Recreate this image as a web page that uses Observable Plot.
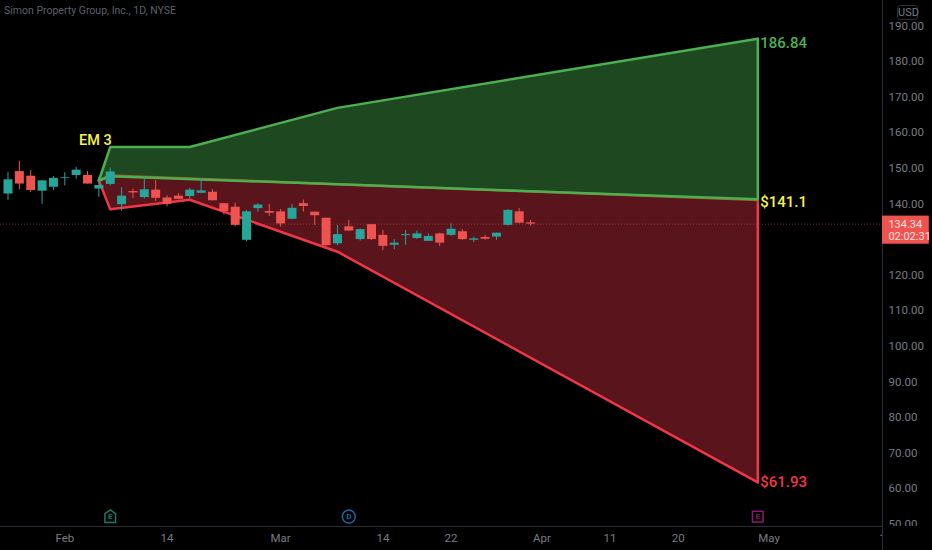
<!DOCTYPE html>
<html>
<head>
<meta charset="utf-8">
<script src="https://cdn.jsdelivr.net/npm/d3@7"></script>
<script src="https://cdn.jsdelivr.net/npm/@observablehq/plot@0.6"></script>
<style>
html,body{margin:0;padding:0;background:#000;overflow:hidden}
#wrap{position:relative;width:932px;height:550px;background:#000}
#title{position:absolute;left:4px;top:4px;font:10.5px "Liberation Sans Narrow",Roboto,sans-serif;color:#5d606b;white-space:nowrap}
#usd{position:absolute;left:897px;top:5px;width:19px;height:13px;border:1px solid #2a2e39;border-radius:3px;font:11px/13px "Liberation Sans Narrow",Roboto,sans-serif;color:#787b86;text-align:center}
svg{display:block}
</style>
</head>
<body>
<div id="wrap">
<div id="chart"></div>
<div id="title">Simon Property Group, Inc., 1D, NYSE</div>
<div id="usd">USD</div>
</div>
<script>
const opens = [142.8,149.1,147.8,143.6,144.7,147.2,148.0,148.0,144.2,145.5,139.8,143.5,141.8,143.9,141.7,142.2,142.1,143.0,143.3,140.1,139.1,129.8,138.7,137.9,137.8,135.7,140.1,137.7,136.0,128.8,133.6,130.0,134.2,131.2,128.4,131.1,130.3,129.5,131.6,131.2,132.2,129.8,130.6,130.7,134.0,137.8,134.7];
const closes = [146.8,145.6,143.8,146.5,147.2,147.4,149.5,145.6,145.2,149.0,142.2,143.1,144.0,141.6,139.9,141.3,143.9,143.7,140.9,137.9,134.0,137.8,139.7,137.4,134.4,138.8,139.3,136.7,128.3,131.4,132.4,132.8,130.0,128.1,129.0,131.4,131.6,130.9,129.0,132.9,130.0,130.2,130.1,131.8,138.2,134.6,134.34];
const highs = [148.9,152.0,149.4,146.5,147.7,148.8,150.3,149.1,147.5,150.1,144.6,144.2,147.4,146.6,142.3,142.9,144.4,146.9,144.0,140.1,140.3,138.2,140.1,139.9,138.5,139.9,141.1,137.7,136.0,134.0,135.4,133.0,134.2,132.6,130.0,132.6,132.4,131.6,131.8,134.4,132.8,130.7,131.2,131.8,138.4,138.7,135.4];
const lows = [141.0,144.0,143.2,139.9,143.8,145.1,147.0,145.6,141.9,145.1,138.0,141.5,141.4,140.7,139.2,141.2,141.5,143.0,140.9,136.9,133.6,129.4,137.7,136.5,133.5,135.6,137.7,134.0,128.1,128.3,132.4,129.6,129.8,126.9,127.1,128.4,130.0,129.5,128.1,130.9,129.8,129.2,129.8,129.8,133.8,134.4,133.8];
const candles = opens.map((o,i)=>({i,o,c:closes[i],h:highs[i],l:lows[i]}));

const upperBars = [8,9,16,29,66];
const upperVals = [146.6,156,156,167,186.4];
const midBars = [8,9,66];
const midGreen = [146.6,147.8,141.3];
const midRed = [146.6,148.0,141.1];
const lowerBars = [8,9,16,29,66];
const lowerVals = [146.6,138.5,141.2,126.6,61.8];

const toPts = (xs,ys)=>xs.map((x,k)=>({x,y:ys[k]}));
const upper = toPts(upperBars,upperVals);
const lower = toPts(lowerBars,lowerVals);
const mGreen = toPts(midBars,midGreen);
const mRed = toPts(midBars,midRed);
const greenPoly = [...upper,...mGreen.slice().reverse()];
const redPoly = [...mRed,...lower.slice().reverse()];

const lastPrice = 134.34;
const priceTicks = [50,60,70,80,90,100,110,120,140,150,160,170,180,190];
const timeTicks = [5,14,24,33,39,47,53,59,67,77];
const timeLabels = ["Feb","14","Mar","14","22","Apr","11","20","May","1"];
const timeLookup = new Map(timeTicks.map((t,k)=>[t,timeLabels[k]]));

const emLabel = [{x:7.7,y:157.8,t:"EM 3",f:"#f7f34a"}];
const endLabels = [
  {x:66,y:185.1,t:"186.84",f:"#4caf50"},
  {x:66,y:140.4,t:"$141.1",f:"#f7f34a"},
  {x:66,y:61.8,t:"$61.93",f:"#f23645"}
];
const events = [
  {x:9,t:"E",k:"house",c:"#1a7a68"},
  {x:30,t:"D",k:"circle",c:"#1c6a9c"},
  {x:66,t:"E",k:"square",c:"#861a6e"}
];
const eventY = 52.2;

const house = {draw(ctx,size){const r=Math.sqrt(size)/2;ctx.moveTo(0,-r*1.25);ctx.lineTo(r,-r*.55);ctx.lineTo(r,r*1.1);ctx.lineTo(-r,r*1.1);ctx.lineTo(-r,-r*.55);ctx.closePath();}};
const roundSq = {draw(ctx,size){const r=Math.sqrt(size)/2;ctx.moveTo(-r,-r);ctx.lineTo(r,-r);ctx.lineTo(r,r);ctx.lineTo(-r,r);ctx.closePath();}};

const xMin=-0.66,xMax=76.98,yMin=49.41,yMax=197.16;
const grey="#787b86", edge="#2a2e39";
const narrow='"Liberation Sans Narrow",Roboto,sans-serif';

const chart = Plot.plot({
  width:932,height:550,
  marginLeft:0,marginRight:50,marginTop:0,marginBottom:24,
  style:{background:"#000",fontFamily:narrow,fontSize:"11px"},
  x:{domain:[xMin,xMax]},
  y:{domain:[yMin,yMax]},
  marks:[
    Plot.line(greenPoly,{x:"x",y:"y",fill:"#1e4820",stroke:"none",curve:"linear"}),
    Plot.line(redPoly,{x:"x",y:"y",fill:"#59141c",stroke:"none",curve:"linear"}),
    Plot.ruleY([lastPrice],{stroke:"#ef5350",strokeOpacity:.5,strokeDasharray:"1,2",strokeWidth:1}),
    Plot.line(lower,{x:"x",y:"y",stroke:"#f23645",strokeWidth:2.5}),
    Plot.line([lower[lower.length-1],mRed[2]],{x:"x",y:"y",stroke:"#f23645",strokeWidth:2.5}),
    Plot.line(mRed,{x:"x",y:"y",stroke:"#a05a2a",strokeWidth:2.5}),
    Plot.line(upper,{x:"x",y:"y",stroke:"#4caf50",strokeWidth:2.5}),
    Plot.line([upper[upper.length-1],mGreen[2]],{x:"x",y:"y",stroke:"#4caf50",strokeWidth:2.5}),
    Plot.line(mGreen,{x:"x",y:"y",stroke:"#4caf50",strokeWidth:2.5}),
    Plot.ruleX(candles,{filter:d=>d.c>=d.o,x:"i",y1:"l",y2:"h",stroke:"#26a69a",strokeWidth:1}),
    Plot.ruleX(candles,{filter:d=>d.c<d.o,x:"i",y1:"l",y2:"h",stroke:"#ef5350",strokeWidth:1}),
    Plot.ruleX(candles,{filter:d=>d.c>=d.o,x:"i",y1:"o",y2:"c",stroke:"#26a69a",strokeWidth:9}),
    Plot.ruleX(candles,{filter:d=>d.c<d.o,x:"i",y1:"o",y2:"c",stroke:"#ef5350",strokeWidth:9}),
    Plot.text(emLabel,{x:"x",y:"y",text:"t",fill:"f",textAnchor:"middle",fontSize:14.5,fontWeight:500,fontFamily:"Roboto"}),
    Plot.text(endLabels,{x:"x",y:"y",text:"t",fill:"f",textAnchor:"start",dx:2.5,fontSize:15,fontWeight:500,fontFamily:"Roboto"}),
    Plot.axisY({anchor:"right",ticks:priceTicks,tickFormat:d=>d.toFixed(2),tickSize:0,tickPadding:6,label:null,stroke:"none",fill:grey,fontSize:11.5}),
    Plot.rect([0],{x1:xMin,x2:xMax+5,y1:yMin,y2:yMin-10,fill:"#000"}),
    Plot.axisX({anchor:"bottom",ticks:timeTicks,tickFormat:d=>timeLookup.get(d),tickSize:0,tickPadding:7,label:null,fill:grey,fontSize:11.5}),
    Plot.rect([0],{x1:xMax,x2:xMax+5,y1:yMin,y2:yMin-10,fill:"#000"}),
    Plot.ruleY([yMin],{stroke:edge,strokeWidth:1}),
    Plot.ruleX([xMax],{y1:yMin-10,y2:yMax,stroke:edge,strokeWidth:1}),
    Plot.rect([lastPrice],{x1:xMax,x2:81.1,y1:136.6,y2:128.7,fill:"#ef5350"}),
    Plot.text([lastPrice],{x:77.5,y:lastPrice,text:d=>d.toFixed(2),fill:"#fde0de",textAnchor:"start",fontSize:11}),
    Plot.text(["02:02:31"],{x:77.5,y:130.9,text:d=>d,fill:"#fde0de",textAnchor:"start",fontSize:11}),
    Plot.dot(events.filter(e=>e.k==="house"),{x:"x",y:()=>eventY,symbol:()=>house,r:6,stroke:"c",fill:"#000",strokeWidth:1.5}),
    Plot.dot(events.filter(e=>e.k==="circle"),{x:"x",y:()=>eventY,symbol:()=>"circle",r:6.5,stroke:"c",fill:"#000",strokeWidth:1.5}),
    Plot.dot(events.filter(e=>e.k==="square"),{x:"x",y:()=>eventY,symbol:()=>roundSq,r:6,stroke:"c",fill:"#000",strokeWidth:1.5}),
    Plot.text(events,{x:"x",y:()=>eventY,text:"t",fill:"c",fontSize:8,fontWeight:700})
  ]
});
document.getElementById("chart").appendChild(chart);
</script>
</body>
</html>
